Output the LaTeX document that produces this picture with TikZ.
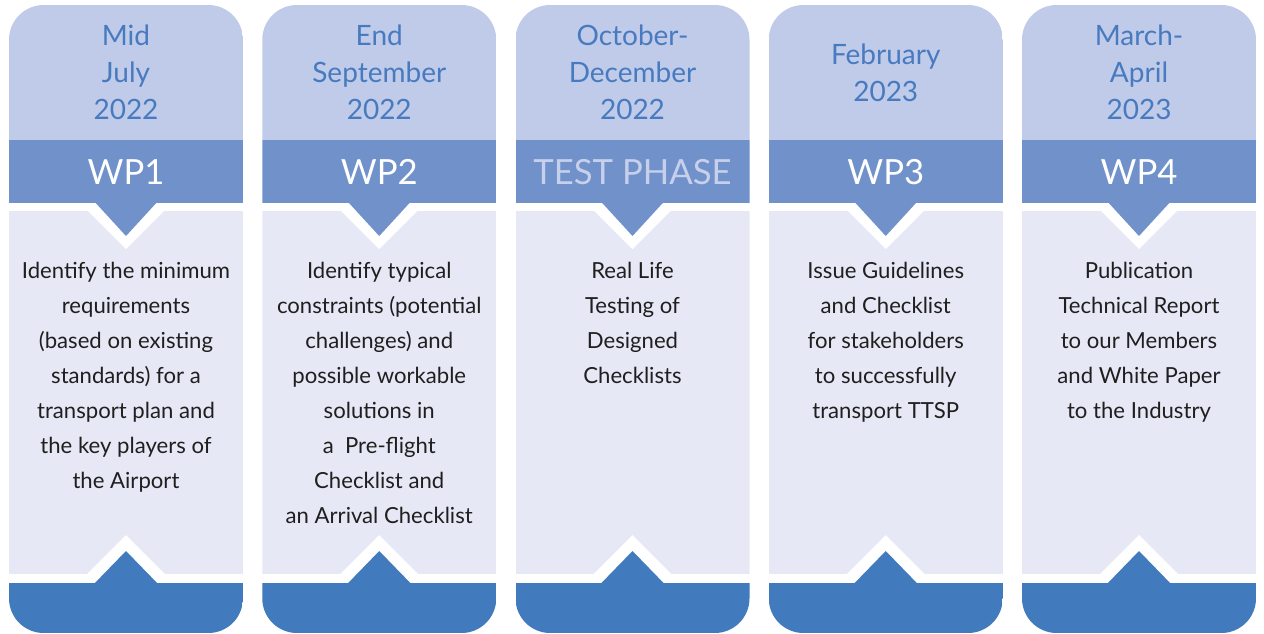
\documentclass[tikz,border=0pt]{standalone}
\usepackage{fontspec}
\setmainfont{Lato}

\definecolor{headfill}{RGB}{191,203,232}
\definecolor{bandfill}{RGB}{112,145,202}
\definecolor{bodyfill}{RGB}{230,232,245}
\definecolor{footfill}{RGB}{66,122,190}
\definecolor{datetext}{RGB}{72,122,192}
\definecolor{phasetext}{RGB}{198,208,235}

\begin{document}
\begin{tikzpicture}[x=0.75pt, y=-0.75pt,
    datelabel/.style={text=datetext, font=\fontsize{21}{27.75}\selectfont, align=center},
    wplabel/.style={font=\fontsize{26}{30}\selectfont},
    tasklabel/.style={text=black!88, font=\fontsize{16.6}{26.25}\selectfont, align=center, anchor=north, inner sep=0pt}]
  \useasboundingbox (0,0) rectangle (1264,633);
  \foreach \i/\when/\wpname/\wpcol/\task in {
      0/{Mid\\July\\2022}/WP1/white/{Identify the minimum\\requirements\\(based on existing\\standards) for a\\transport plan and\\the key players of\\the Airport},
      1/{End\\September\\2022}/WP2/white/{Identify typical\\constraints (potential\\challenges) and\\possible workable\\solutions in\\a\ \ Pre-flight\\Checklist and\\an Arrival Checklist},
      2/{October-\\December\\2022}/TEST PHASE/phasetext/{Real Life\\Testing of\\Designed\\Checklists},
      3/{February\\2023}/WP3/white/{Issue Guidelines\\and Checklist\\for stakeholders\\to successfully\\transport TTSP},
      4/{March-\\April\\2023}/WP4/white/{Publication\\Technical Report\\to our Members\\and White Paper\\to the Industry}}{
    \pgfmathsetmacro\xa{9+253.25*\i}
    \pgfmathsetmacro\xb{\xa+234}
    \pgfmathsetmacro\xm{\xa+117}
    \begin{scope}
      \clip[rounded corners=26pt] (\xa,5) rectangle (\xb,633);
      \fill[headfill] (\xa,5) rectangle (\xb,140);
      \fill[bodyfill] (\xa,211) rectangle (\xb,574);
      % pointer under the band
      \fill[white] (\xm-46,203) -- (\xm,249) -- (\xm+46,203) -- cycle;
      \fill[bandfill] (\xm-33,200) -- (\xm,236) -- (\xm+33,200) -- cycle;
      \fill[bandfill] (\xa,140) rectangle (\xb,203);
      % pointer on top of the foot
      \fill[white] (\xm-48,583) -- (\xm,535) -- (\xm+48,583) -- cycle;
      \fill[footfill] (\xm-34,586) -- (\xm,551) -- (\xm+34,586) -- cycle;
      \fill[footfill] (\xa,583) rectangle (\xb,633);
    \end{scope}
    \node[datelabel] (date\i) at (\xm,72.5) {\when};
    \node[wplabel, text=\wpcol] (wp\i) at (\xm,172) {\wpname};
    \node[tasklabel] (task\i) at (\xm,261.5) {\task};
  }
\end{tikzpicture}
\end{document}
